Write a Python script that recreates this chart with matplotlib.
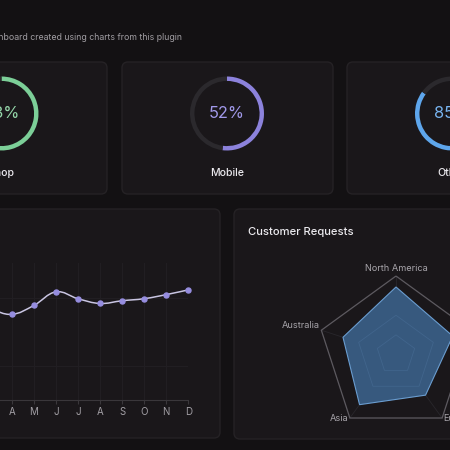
import matplotlib
matplotlib.use("Agg")
import matplotlib.pyplot as plt
from matplotlib.patches import FancyBboxPatch, Polygon
from matplotlib.path import Path
from matplotlib.patches import PathPatch
import numpy as np

plt.rcParams['font.family'] = ['Inter', 'DejaVu Sans']

# donut cards
donut_labels = ['Shop', 'Mobile', 'Other']
donut_values = [73, 52, 85]
donut_colors = ['#7ccf98', '#8c82dc', '#5ea6ec']
donut_text_colors = ['#96d8ab', '#a199ea', '#78b4f0']

# line chart
months = ['J', 'F', 'M', 'A', 'M', 'J', 'J', 'A', 'S', 'O', 'N', 'D']
requests = [27.5, 29.0, 28.4, 27.6, 28.9, 30.9, 29.9, 29.2, 29.6, 29.9, 30.5, 31.2]

# radar chart
regions = ['North America', 'Africa', 'Europe', 'Asia', 'Australia']
region_values = [86, 76, 64, 79, 71]
radar_max = 100
radar_rings = [25, 50]

W = H = 450
BG = '#131113'
CARD = '#1a171a'
CARD_EDGE = '#252225'


def px_axes(fig, x0, y0, w, h):
    # place an axes by pixel box (top-left origin)
    return fig.add_axes([x0 / W, 1 - (y0 + h) / H, w / W, h / H])


def bezier_path(xs, ys, t=0.4):
    verts = [(xs[0], ys[0])]
    codes = [Path.MOVETO]
    n = len(xs)
    pts = np.column_stack([xs, ys])
    for i in range(n - 1):
        p0 = pts[max(i - 1, 0)]
        p1 = pts[i]
        p2 = pts[i + 1]
        p3 = pts[min(i + 2, n - 1)]
        c1 = p1 + (p2 - p0) * t / 2
        c2 = p2 - (p3 - p1) * t / 2
        verts += [tuple(c1), tuple(c2), tuple(p2)]
        codes += [Path.CURVE4] * 3
    return Path(verts, codes)


fig = plt.figure(figsize=(4.5, 4.5), dpi=100, facecolor=BG)
bg = fig.add_axes([0, 0, 1, 1])
bg.set_xlim(0, W)
bg.set_ylim(H, 0)
bg.axis('off')

cards = [(-104, 62, 211, 132), (122, 62, 211, 132), (347, 62, 211, 132),
         (-30, 209, 250, 229), (234, 209, 250, 230)]
for (x, y, w, h) in cards:
    bg.add_patch(FancyBboxPatch((x, y), w, h, boxstyle='round,pad=0,rounding_size=6',
                                fc=CARD, ec=CARD_EDGE, lw=1))

bg.text(182, 38, 'A dashboard created using charts from this plugin', ha='right', va='center',
        color='#a09da2', fontsize=6.3)

# donuts
centers = [1.5, 227, 452]
for cx, lab, val, col, tcol in zip(centers, donut_labels, donut_values, donut_colors,
                                   donut_text_colors):
    r = 37
    ax = px_axes(fig, cx - r, 113.5 - r, 2 * r, 2 * r)
    ax.pie([val, 100 - val], startangle=90, counterclock=False, colors=[col, '#2b292d'],
           radius=1, wedgeprops=dict(width=0.12, edgecolor='none'))
    ax.set_xlim(-1, 1)
    ax.set_ylim(-1, 1)
    ax.set_aspect('equal')
    ax.axis('off')
    ax.text(0, 0, '{}%'.format(val), ha='center', va='center', color=tcol, fontsize=11.8)
    bg.text(cx, 172.5, lab, ha='center', va='center', color='#ebe9ee', fontsize=7.6,
            fontweight='medium')

# line chart
step = 22.08
lx = 11.7 - 3 * step
lax = px_axes(fig, lx, 263, 11 * step, 137)
lax.set_facecolor('none')
xs = np.arange(len(months))
lax.set_xlim(0, 11)
lax.set_ylim(15, 35.15)
lax.set_yticks([20, 30])
lax.set_xticks(xs)
lax.set_xticklabels(months)
lax.grid(True, color='#211e22', lw=0.8)
lax.set_axisbelow(True)
for s in ['top', 'right', 'left']:
    lax.spines[s].set_visible(False)
lax.spines['bottom'].set_color('#3a373b')
lax.tick_params(axis='x', colors='#3a373b', labelcolor='#a19ea4', labelsize=7, length=3,
                pad=2)
lax.tick_params(axis='y', length=0, labelleft=False)
lax.add_patch(PathPatch(bezier_path(xs, np.array(requests)), fc='none', ec='#c9c5e2',
                        lw=1.1, clip_on=False))
lax.scatter(xs, requests, s=13, color='#968ddf', zorder=5, clip_on=False)

# radar chart
bg.text(248, 232, 'Customer Requests', ha='left', va='center', color='#ecebef', fontsize=8.1,
        fontweight='medium')
R = 78.5
rad = px_axes(fig, 396 - 120, 354.5 - 120, 240, 240)
lim = 120 / R
rad.set_xlim(-lim, lim)
rad.set_ylim(-lim, lim)
rad.axis('off')
ang = np.arange(len(regions)) * 2 * np.pi / len(regions)
ux, uy = np.sin(ang), np.cos(ang)
for a, b in zip(ux, uy):
    rad.plot([0, a], [0, b], color='#29272c', lw=0.6, zorder=0.5)
rad.add_patch(Polygon(np.column_stack([ux, uy]), closed=True, fc='none', ec='#5d5a60',
                      lw=0.9))
vals = np.array(region_values) / radar_max
rad.add_patch(Polygon(np.column_stack([ux * vals, uy * vals]), closed=True, fc='#37597e',
                      ec='#6a9dd0', lw=0.8, zorder=2))
for ring in radar_rings:
    f = ring / radar_max
    rad.add_patch(Polygon(np.column_stack([ux * f, uy * f]), closed=True, fc='none',
                          ec='#41658c', lw=0.6, zorder=4))
for name, a, b in zip(regions, ux, uy):
    if abs(a) < 0.1:
        ha, va, dx, dy = 'center', 'bottom', 0, 0.04
    elif a > 0:
        ha, va, dx, dy = 'left', 'center', 0.02, 0
    else:
        ha, va, dx, dy = 'right', 'center', -0.02, 0
    if abs(b) < 0.5:
        dy = 0.06
    rad.text(a + dx, b + dy, name, ha=ha, va=va, color='#a8a5ab', fontsize=6.6)

fig.savefig('out.png', dpi=100, facecolor=BG)
